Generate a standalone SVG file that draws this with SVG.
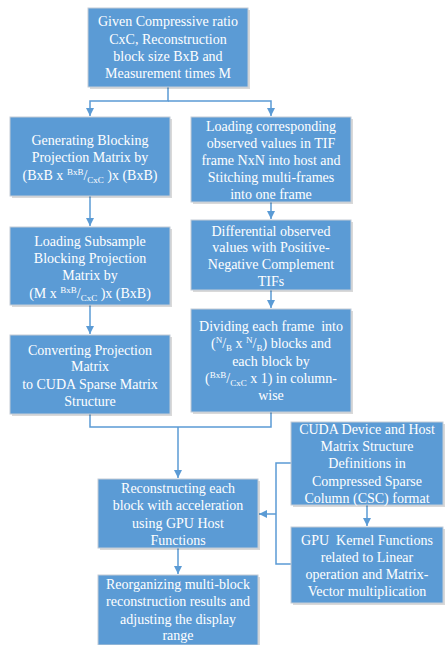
<svg xmlns="http://www.w3.org/2000/svg" width="446" height="645" viewBox="0 0 446 645">
<style>
.box{fill:#5B9BD5;stroke:#C4CCD6;stroke-width:1}
.sh{fill:#000;opacity:0.15}
.t{font-family:"Liberation Serif","Times New Roman",serif;font-size:14px;fill:#fff;text-anchor:middle}
.pre{white-space:pre}
.s{font-size:9px}
.c{fill:none;stroke:#5B9BD5;stroke-width:1.5}
</style>
<defs>
<marker id="ah" viewBox="0 0 10 10" refX="10" refY="5" markerWidth="8" markerHeight="8" markerUnits="userSpaceOnUse" orient="auto">
<path d="M0,0 L10,5 L0,10 z" fill="#5B9BD5"/>
</marker>
</defs>
<rect width="446" height="645" fill="#fff"/>
<g id="connectors">
<path class="c" d="M168,87 V101 H90 V116" marker-end="url(#ah)"/>
<path class="c" d="M168,101 H271 V116" marker-end="url(#ah)"/>
<path class="c" d="M90,196 V226" marker-end="url(#ah)"/>
<path class="c" d="M271,202 V219" marker-end="url(#ah)"/>
<path class="c" d="M271,290 V308" marker-end="url(#ah)"/>
<path class="c" d="M90,305 V334" marker-end="url(#ah)"/>
<path class="c" d="M90,414 V427 H271 V412"/>
<path class="c" d="M178,427 V478" marker-end="url(#ah)"/>
<path class="c" d="M367,505 V526" marker-end="url(#ah)"/>
<path class="c" d="M291,463 H276 V564 H291"/>
<path class="c" d="M276,514 H259" marker-end="url(#ah)"/>
<path class="c" d="M178,548 V574" marker-end="url(#ah)"/>
</g>
<g id="n1">
<rect class="sh" x="90" y="10" width="160" height="79"/>
<rect class="box" x="88" y="8" width="160" height="79"/>
<text class="t"><tspan x="168" y="26">Given Compressive ratio</tspan><tspan x="168" y="43.5">CxC, Reconstruction</tspan><tspan x="168" y="61">block size BxB and</tspan><tspan x="168" y="78">Measurement times M</tspan></text>
</g>
<g id="n2">
<rect class="sh" x="12" y="119" width="160" height="79"/>
<rect class="box" x="10" y="117" width="160" height="79"/>
<text class="t"><tspan x="90" y="144.5">Generating Blocking</tspan><tspan x="90" y="161.5">Projection Matrix by</tspan><tspan x="90" y="179.5">(BxB x <tspan class="s" dy="-5">BxB</tspan><tspan dy="5">/</tspan><tspan class="s" dy="3">CxC</tspan><tspan dy="-3"> )x (BxB)</tspan></tspan></text>
</g>
<g id="n3">
<rect class="sh" x="193" y="119" width="160" height="85"/>
<rect class="box" x="191" y="117" width="160" height="85"/>
<text class="t"><tspan x="271" y="130.5">Loading corresponding</tspan><tspan x="271" y="147.5">observed values in TIF</tspan><tspan x="271" y="164.5">frame NxN into host and</tspan><tspan x="271" y="181.5">Stitching multi-frames</tspan><tspan x="271" y="198.5">into one frame</tspan></text>
</g>
<g id="n4">
<rect class="sh" x="12" y="229" width="160" height="78"/>
<rect class="box" x="10" y="227" width="160" height="78"/>
<text class="t"><tspan x="90" y="245.5">Loading Subsample</tspan><tspan x="90" y="262.5">Blocking Projection</tspan><tspan x="90" y="279.5">Matrix by</tspan><tspan x="90" y="297.5">(M x <tspan class="s" dy="-5">BxB</tspan><tspan dy="5">/</tspan><tspan class="s" dy="3">CxC</tspan><tspan dy="-3"> )x (BxB)</tspan></tspan></text>
</g>
<g id="n5">
<rect class="sh" x="193" y="222" width="160" height="70"/>
<rect class="box" x="191" y="220" width="160" height="70"/>
<text class="t"><tspan x="271" y="235.5">Differential observed</tspan><tspan x="271" y="252">values with Positive-</tspan><tspan x="271" y="268.5">Negative Complement</tspan><tspan x="271" y="286">TIFs</tspan></text>
</g>
<g id="n6">
<rect class="sh" x="193" y="311" width="160" height="103"/>
<rect class="box" x="191" y="309" width="160" height="103"/>
<text class="t pre"><tspan x="271" y="331">Dividing each frame  into</tspan><tspan x="271" y="348">(<tspan class="s" dy="-5">N</tspan><tspan dy="5">/</tspan><tspan class="s" dy="3">B</tspan><tspan dy="-3"> x </tspan><tspan class="s" dy="-5">N</tspan><tspan dy="5">/</tspan><tspan class="s" dy="3">B</tspan><tspan dy="-3">) blocks and</tspan></tspan><tspan x="271" y="366">each block by</tspan><tspan x="271" y="383">(<tspan class="s" dy="-5">BxB</tspan><tspan dy="5">/</tspan><tspan class="s" dy="3">CxC</tspan><tspan dy="-3"> x 1) in column-</tspan></tspan><tspan x="271" y="399.5">wise</tspan></text>
</g>
<g id="n7">
<rect class="sh" x="12" y="337" width="160" height="79"/>
<rect class="box" x="10" y="335" width="160" height="79"/>
<text class="t"><tspan x="90" y="354.5">Converting Projection</tspan><tspan x="90" y="371">Matrix</tspan><tspan x="90" y="388.5">to CUDA Sparse Matrix</tspan><tspan x="90" y="405.5">Structure</tspan></text>
</g>
<g id="n8">
<rect class="sh" x="100" y="481" width="160" height="69"/>
<rect class="box" x="98" y="479" width="160" height="69"/>
<text class="t"><tspan x="178" y="492.5">Reconstructing each</tspan><tspan x="178" y="510">block with acceleration</tspan><tspan x="178" y="527.5">using GPU Host</tspan><tspan x="178" y="545">Functions</tspan></text>
</g>
<g id="n9">
<rect class="sh" x="293" y="424" width="152" height="83"/>
<rect class="box" x="291" y="422" width="152" height="83"/>
<text class="t"><tspan x="367" y="433.5">CUDA Device and Host</tspan><tspan x="367" y="450.5">Matrix Structure</tspan><tspan x="367" y="467.5">Definitions in</tspan><tspan x="367" y="486">Compressed Sparse</tspan><tspan x="367" y="502.5">Column (CSC) format</tspan></text>
</g>
<g id="n10">
<rect class="sh" x="293" y="529" width="152" height="76"/>
<rect class="box" x="291" y="527" width="152" height="76"/>
<text class="t pre"><tspan x="367" y="545">GPU  Kernel Functions</tspan><tspan x="367" y="561.5">related to Linear</tspan><tspan x="367" y="579">operation and Matrix-</tspan><tspan x="367" y="595.5">Vector multiplication</tspan></text>
</g>
<g id="n11">
<rect class="sh" x="100" y="577" width="160" height="70"/>
<rect class="box" x="98" y="575" width="160" height="70"/>
<text class="t"><tspan x="178" y="588.5">Reorganizing multi-block</tspan><tspan x="178" y="606">reconstruction results and</tspan><tspan x="178" y="623.5">adjusting the display</tspan><tspan x="178" y="640">range</tspan></text>
</g>
</svg>
